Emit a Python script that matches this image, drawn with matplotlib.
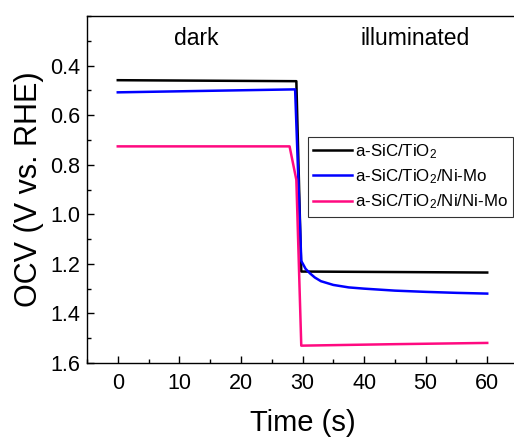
import matplotlib
matplotlib.use('Agg')
import matplotlib.pyplot as plt
from matplotlib.ticker import MultipleLocator

plt.rcParams['font.family'] = ['Liberation Sans', 'DejaVu Sans']
plt.rcParams['mathtext.fontset'] = 'custom'
plt.rcParams['mathtext.rm'] = 'Liberation Sans'
plt.rcParams['mathtext.it'] = 'Liberation Sans'

# a-SiC/TiO2
t_black = [0, 29.0, 29.8, 45, 60]
v_black = [0.459, 0.463, 1.231, 1.233, 1.235]

# a-SiC/TiO2/Ni-Mo
t_blue = [0, 28.8, 29.8, 30.5, 31.2, 32, 33, 35, 37.5, 40, 45, 50, 55, 60]
v_blue = [0.508, 0.496, 1.188, 1.22, 1.238, 1.255, 1.27, 1.285, 1.295, 1.30,
          1.308, 1.313, 1.317, 1.32]

# a-SiC/TiO2/Ni/Ni-Mo
t_pink = [0, 27.9, 29.0, 29.8, 45, 60]
v_pink = [0.726, 0.726, 0.861, 1.530, 1.524, 1.519]

labels = [r'a-SiC/TiO$_2$', r'a-SiC/TiO$_2$/Ni-Mo', r'a-SiC/TiO$_2$/Ni/Ni-Mo']

fig = plt.figure(figsize=(5.14, 4.37), dpi=100)
ax = fig.add_axes([87 / 514, 1 - 363 / 437, 431 / 514, 347 / 437])

ax.plot(t_black, v_black, color='black', lw=1.8, label=labels[0])
ax.plot(t_blue, v_blue, color='#0000ff', lw=1.8, label=labels[1])
ax.plot(t_pink, v_pink, color='#ff0a80', lw=1.8, label=labels[2])

ax.set_xlim(-5, 65)
ax.set_ylim(1.6, 0.2)
ax.xaxis.set_major_locator(MultipleLocator(10))
ax.xaxis.set_minor_locator(MultipleLocator(5))
ax.set_yticks([0.4, 0.6, 0.8, 1.0, 1.2, 1.4, 1.6])
ax.yaxis.set_minor_locator(MultipleLocator(0.1))
ax.tick_params(which='both', direction='in', top=False, right=False,
               labelsize=15.5, width=1)
ax.tick_params(which='major', length=5)
ax.tick_params(which='minor', length=3)
ax.tick_params(axis='y', pad=5)
ax.tick_params(axis='x', pad=7)
for s in ax.spines.values():
    s.set_linewidth(1)

ax.set_xlabel('Time (s)', fontsize=21, labelpad=11)
ax.set_ylabel('OCV (V vs. RHE)', fontsize=22, labelpad=4)

ax.text(12.8, 0.29, 'dark', fontsize=16.5, ha='center', va='center')
ax.text(48.3, 0.29, 'illuminated', fontsize=16.5, ha='center', va='center')

leg = ax.legend(loc='upper left', bbox_to_anchor=(0.512, 0.652), fontsize=12.2,
                frameon=True, fancybox=False, edgecolor='black',
                handlelength=2.3, handletextpad=0.2, borderpad=0.3,
                borderaxespad=0, labelspacing=0.4)
leg.get_frame().set_linewidth(0.8)

fig.savefig('out.png', dpi=100)
